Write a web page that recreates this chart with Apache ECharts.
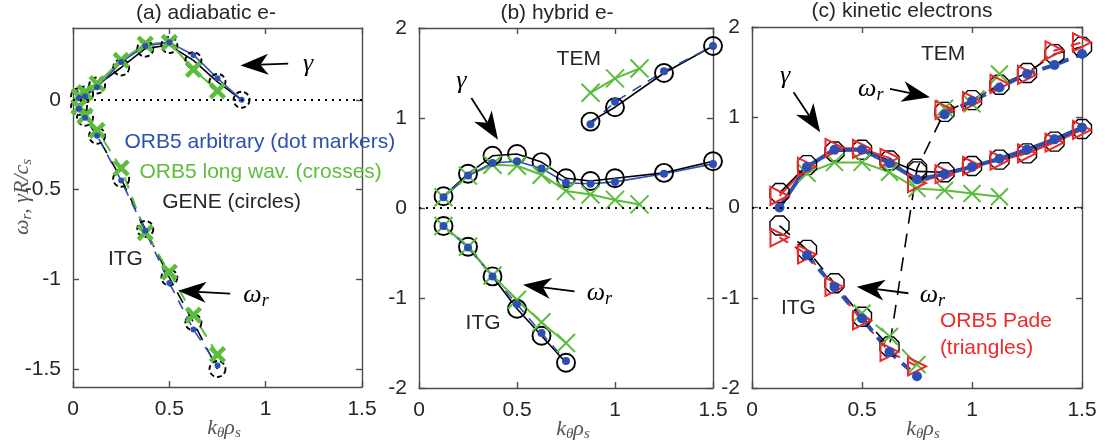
<!DOCTYPE html>
<html><head><meta charset="utf-8">
<script src="https://cdn.jsdelivr.net/npm/echarts@6/dist/echarts.min.js"></script>
<style>html,body{margin:0;padding:0;background:#fff}#c{width:1107px;height:446px}</style>
</head><body><div id="c"></div>
<script>
// ---------------- DATA ----------------
const xTicks = [0, 0.5, 1, 1.5];
const aYTicks = [-1.5, -1, -0.5, 0];
const bcYTicks = [-2, -1, 0, 1, 2];

// (a) adiabatic e-
const a_k = [0.03125, 0.0625, 0.125, 0.25, 0.375, 0.5, 0.625, 0.75, 0.875];
const a_gamma_orb5 = [0.01, 0.02, 0.07, 0.21, 0.30, 0.32, 0.25, 0.12, 0.0];
const a_gamma_gene = [0.02, 0.03, 0.08, 0.18, 0.285, 0.305, 0.22, 0.10, 0.0];
const a_k_long = [0.03125, 0.0625, 0.125, 0.25, 0.375, 0.5, 0.625, 0.75];
const a_gamma_long = [0.02, 0.04, 0.09, 0.22, 0.31, 0.32, 0.17, 0.05];
const a_k_omega = [0.03125, 0.0625, 0.125, 0.25, 0.375, 0.5, 0.625, 0.75];
const a_omega_orb5 = [-0.05, -0.1, -0.2, -0.45, -0.73, -1.02, -1.28, -1.48];
const a_omega_gene = [-0.04, -0.1, -0.2, -0.44, -0.72, -0.99, -1.24, -1.5];
const a_omega_long = [-0.04, -0.09, -0.17, -0.38, -0.74, -0.96, -1.2, -1.42];

// (b) hybrid e-
const b_k = [0.125, 0.25, 0.375, 0.5, 0.625, 0.75, 0.875, 1.0, 1.25, 1.5];
const b_gamma_orb5 = [0.12, 0.36, 0.5, 0.52, 0.44, 0.28, 0.27, 0.29, 0.38, 0.49];
const b_gamma_gene = [0.13, 0.38, 0.58, 0.6, 0.51, 0.33, 0.3, 0.33, 0.39, 0.52];
const b_k_long = [0.125, 0.25, 0.375, 0.5, 0.625, 0.75, 0.875, 1.0, 1.125];
const b_gamma_long = [0.12, 0.36, 0.48, 0.47, 0.37, 0.19, 0.15, 0.09, 0.04];
const b_k_itg = [0.125, 0.25, 0.375, 0.5, 0.625, 0.75];
const b_omega_itg_orb5 = [-0.2, -0.44, -0.76, -1.07, -1.39, -1.7];
const b_omega_itg_gene = [-0.2, -0.43, -0.76, -1.12, -1.42, -1.72];
const b_omega_itg_long = [-0.2, -0.43, -0.75, -1.02, -1.27, -1.5];
const b_k_tem = [0.875, 1.0, 1.25, 1.5];
const b_omega_tem_orb5 = [0.93, 1.18, 1.52, 1.8];
const b_omega_tem_gene = [0.96, 1.12, 1.5, 1.8];
const b_k_tem_long = [0.875, 1.0, 1.125];
const b_omega_tem_long = [1.28, 1.44, 1.55];

// (c) kinetic electrons
const c_k = [0.125, 0.25, 0.375, 0.5, 0.625, 0.75, 0.875, 1.0, 1.125, 1.25, 1.375, 1.5];
const c_gamma_orb5 = [0.0, 0.45, 0.64, 0.64, 0.49, 0.31, 0.37, 0.45, 0.54, 0.64, 0.755, 0.885];
const c_gamma_gene = [0.16, 0.47, 0.62, 0.64, 0.52, 0.4, 0.39, 0.46, 0.53, 0.6, 0.73, 0.87];
const c_gamma_pade = [0.13, 0.45, 0.66, 0.65, 0.55, 0.27, 0.37, 0.46, 0.52, 0.6, 0.72, 0.86];
const c_k_long = [0.25, 0.375, 0.5, 0.625, 0.75, 0.875, 1.0, 1.125];
const c_gamma_long = [0.38, 0.5, 0.5, 0.39, 0.21, 0.19, 0.155, 0.12];
const c_omega_gene = [-0.2, -0.47, -0.84, -1.21, -1.54, 0.43, 1.06, 1.19, 1.36, 1.49, 1.70, 1.78];
const c_k_itg_orb5 = [0.25, 0.375, 0.5, 0.625, 0.75];
const c_omega_itg_orb5 = [-0.53, -0.88, -1.23, -1.6, -1.87];
const c_k_itg_pade = [0.125, 0.25, 0.375, 0.5, 0.625, 0.75];
const c_omega_itg_pade = [-0.33, -0.52, -0.88, -1.25, -1.6, -1.76];
const c_k_tem = [0.875, 1.0, 1.125, 1.25, 1.375, 1.5];
const c_omega_tem_orb5 = [1.03, 1.18, 1.33, 1.48, 1.58, 1.70];
const c_omega_tem_pade = [1.08, 1.18, 1.37, 1.47, 1.74, 1.83];
const c_k_itg_long = [0.5, 0.625, 0.75];
const c_omega_itg_long = [-1.17, -1.43, -1.74];
const c_k_tem_long = [0.875, 1.0, 1.125];
const c_omega_tem_long = [1.1, 1.15, 1.48];

// ---------------- STYLE ----------------
const BLACK = '#000', BLUE = '#2d4fb4', GREEN = '#5cbd3c', RED = '#ec2a2a';
const AX = '#4d4d4d', LBL = '#262626';
const SANS = '"Liberation Sans", Arial, Helvetica, sans-serif';
const SERIF = '"Liberation Serif", "DejaVu Serif", serif';
const NONE = 'rgba(0,0,0,0)';
const CROSS = 'path://M0,0L10,10M10,0L0,10';
const OCT = 'path://M4,0L10,0L14,4L14,10L10,14L4,14L0,10L0,4Z';

const chart = echarts.init(document.getElementById('c'), null, {renderer: 'canvas'});

const grids = [
  {left: 73, top: 28, width: 289, height: 359},
  {left: 419, top: 28, width: 294, height: 360},
  {left: 752, top: 27, width: 330, height: 361}
];
const yr = [[-1.6, 0.4, aYTicks], [-2, 2, bcYTicks], [-2, 2, bcYTicks]];

const xAxis = [], yAxis = [];
grids.forEach((g, i) => {
  const line = {show: true, onZero: false, lineStyle: {color: AX, width: 1.4}};
  const tick = (vals) => ({show: true, inside: true, length: 6, customValues: vals, lineStyle: {color: AX, width: 1.4}});
  const lab = (vals, show) => ({show: show, customValues: vals, color: LBL, fontSize: 21, fontFamily: SANS, margin: 12});
  xAxis.push({gridIndex: i, type: 'value', min: 0, max: 1.5, position: 'bottom', axisLine: line, axisTick: tick(xTicks), axisLabel: lab(xTicks, true), splitLine: {show: false}});
  xAxis.push({gridIndex: i, type: 'value', min: 0, max: 1.5, position: 'top', axisLine: line, axisTick: tick(xTicks), axisLabel: lab(xTicks, false), splitLine: {show: false}});
  yAxis.push({gridIndex: i, type: 'value', min: yr[i][0], max: yr[i][1], position: 'left', axisLine: line, axisTick: tick(yr[i][2]), axisLabel: lab(yr[i][2], true), splitLine: {show: false}});
  yAxis.push({gridIndex: i, type: 'value', min: yr[i][0], max: yr[i][1], position: 'right', axisLine: line, axisTick: tick(yr[i][2]), axisLabel: lab(yr[i][2], false), splitLine: {show: false}});
});

function S(p, xs, ys, o) {
  return Object.assign({
    type: 'line', xAxisIndex: p * 2, yAxisIndex: p * 2,
    data: xs.map((x, i) => [x, ys[i]]),
    silent: true, animation: false, z: 3
  }, o);
}
const circ = (size, dashed) => ({symbol: 'circle', symbolSize: size, itemStyle: {color: NONE, borderColor: BLACK, borderWidth: 1.9, borderType: dashed ? [5, 3] : 'solid'}});
const oct = (size) => ({symbol: OCT, symbolSize: size, itemStyle: {color: NONE, borderColor: BLACK, borderWidth: 1.4}});
const dot = (size) => ({symbol: 'circle', symbolSize: size, itemStyle: {color: BLUE, borderWidth: 0}});
const cross = (size, w) => ({symbol: CROSS, symbolSize: size, itemStyle: {color: NONE, borderColor: GREEN, borderWidth: w}});
const tri = (size) => ({symbol: 'triangle', symbolRotate: -90, symbolSize: size, itemStyle: {color: NONE, borderColor: RED, borderWidth: 2}});
const ls = (color, width, type) => ({lineStyle: {color: color, width: width, type: type || 'solid'}});
const zeroLine = {markLine: {silent: true, symbol: 'none', animation: false, label: {show: false},
  lineStyle: {color: BLACK, width: 2, type: [2, 5]}, data: [{yAxis: 0}]}};

const series = [
  // (a)
  S(0, a_k, a_gamma_gene, Object.assign({}, circ(16, true), ls(BLACK, 1.6), zeroLine)),
  S(0, a_k_omega, a_omega_gene, Object.assign({}, circ(16, true), ls(BLACK, 1.6, [12, 9]))),
  S(0, a_k_long, a_gamma_long, Object.assign({}, cross(14, 4.5), ls(GREEN, 2))),
  S(0, a_k_omega, a_omega_long, Object.assign({}, cross(14, 4.5), ls(GREEN, 2, [12, 9]))),
  S(0, a_k, a_gamma_orb5, Object.assign({}, dot(6), ls(BLUE, 1.6))),
  S(0, a_k_omega, a_omega_orb5, Object.assign({}, dot(6), ls(BLUE, 1.6, [10, 8]))),
  // (b)
  S(1, b_k, b_gamma_gene, Object.assign({}, circ(18), ls(BLACK, 1.6), zeroLine)),
  S(1, b_k_itg, b_omega_itg_gene, Object.assign({}, circ(18), ls(BLACK, 1.6))),
  S(1, b_k_tem, b_omega_tem_gene, Object.assign({}, circ(18), ls(BLACK, 1.6))),
  S(1, b_k_long, b_gamma_long, Object.assign({}, cross(18, 2), ls(GREEN, 2))),
  S(1, b_k_itg, b_omega_itg_long, Object.assign({}, cross(18, 2), ls(GREEN, 2))),
  S(1, b_k_tem_long, b_omega_tem_long, Object.assign({}, cross(18, 2), ls(GREEN, 2))),
  S(1, b_k, b_gamma_orb5, Object.assign({}, dot(8), ls(BLUE, 1.6))),
  S(1, b_k_itg, b_omega_itg_orb5, Object.assign({}, dot(8), ls(BLUE, 1.6, [10, 8]))),
  S(1, b_k_tem, b_omega_tem_orb5, Object.assign({}, dot(8), ls(BLUE, 1.6, [10, 8]))),
  // (c)
  S(2, c_k, c_gamma_gene, Object.assign({}, oct(19), ls(BLACK, 1.6), zeroLine)),
  S(2, c_k, c_omega_gene, Object.assign({}, oct(19), ls(BLACK, 1.6, [14, 10]))),
  S(2, c_k_long, c_gamma_long, Object.assign({}, cross(17, 2), ls(GREEN, 2))),
  S(2, c_k_itg_long, c_omega_itg_long, Object.assign({}, cross(17, 2), ls(GREEN, 2, [10, 8]))),
  S(2, c_k_tem_long, c_omega_tem_long, Object.assign({}, cross(17, 2), ls(GREEN, 2, [10, 8]))),
  S(2, c_k, c_gamma_pade, Object.assign({}, tri(18), ls(RED, 2))),
  S(2, c_k_itg_pade, c_omega_itg_pade, Object.assign({}, tri(18), ls(RED, 2, [10, 8]))),
  S(2, c_k_tem, c_omega_tem_pade, Object.assign({}, tri(18), ls(RED, 2, [10, 8]))),
  S(2, c_k, c_gamma_orb5, Object.assign({}, dot(10), ls(BLUE, 4))),
  S(2, c_k_itg_orb5, c_omega_itg_orb5, Object.assign({}, dot(10), ls(BLUE, 4, [10, 8]))),
  S(2, c_k_tem, c_omega_tem_orb5, Object.assign({}, dot(10), ls(BLUE, 4, [10, 8])))
];

chart.setOption({animation: false, grid: grids, xAxis: xAxis, yAxis: yAxis, series: series});

// ---------------- ANNOTATIONS (data coordinates) ----------------
const panelSeries = [0, 6, 15];
const px = (p, pt) => chart.convertToPixel({seriesIndex: panelSeries[p]}, pt);
const mathRich = (size, color) => ({
  m: {font: 'italic ' + size + 'px ' + SERIF, fill: color, color: color, lineHeight: size + 4},
  s: {font: 'italic ' + Math.round(size * 0.68) + 'px ' + SERIF, fill: color, color: color, lineHeight: 10, verticalAlign: 'bottom'}
});
function txtAt(x, y, text, color, size, align, rich, rot) {
  const st = {text: text, fill: color, font: size + 'px ' + SANS, align: align || 'center', verticalAlign: 'middle',
    textAlign: align || 'center', textVerticalAlign: 'middle'};
  if (rich) st.rich = rich;
  return {type: 'text', x: x, y: y, rotation: rot || 0, z: 100, style: st};
}
function txt(p, pt, text, color, size, align, rich) {
  const q = px(p, pt);
  return txtAt(q[0], q[1], text, color, size, align, rich);
}
function arrow(p, tail, tip) {
  const a = px(p, tail), b = px(p, tip);
  const dx = b[0] - a[0], dy = b[1] - a[1], len = Math.hypot(dx, dy), ux = dx / len, uy = dy / len, nx = -uy, ny = ux;
  const L = 28, W = 10.5, N = 8;
  const base = [b[0] - ux * L, b[1] - uy * L], notch = [b[0] - ux * (L - N), b[1] - uy * (L - N)];
  return [
    {type: 'line', z: 100, shape: {x1: a[0], y1: a[1], x2: notch[0], y2: notch[1]}, style: {stroke: '#000', lineWidth: 1.8}},
    {type: 'polygon', z: 100, shape: {points: [b, [base[0] + nx * W, base[1] + ny * W], notch, [base[0] - nx * W, base[1] - ny * W]]}, style: {fill: '#000'}}
  ];
}
const g = [];
const gam = '{m|γ}', omr = '{m|ω}{s|r}';
// titles & axis names
g.push(txtAt(206, 13, '(a) adiabatic e-', LBL, 21));
g.push(txtAt(557, 13, '(b) hybrid e-', LBL, 21));
g.push(txtAt(902, 11, '(c) kinetic electrons', LBL, 21));
[[224, 428], [573, 429], [923, 429]].forEach(c => g.push(txtAt(c[0], c[1], '{m|k}{s|θ}{m|ρ}{s|s}', '#555', 22, 'center', mathRich(22, '#555'))));
g.push(txtAt(22, 197, '{m|ω}{s|r}{m|, γR/c}{s|s}', '#555', 22, 'center', mathRich(22, '#555'), Math.PI / 2));
// panel a
g.push(...arrow(0, [1.117, 0.202], [0.869, 0.191]));
g.push(txt(0, [1.22, 0.2], gam, BLACK, 26, 'center', mathRich(26, BLACK)));
g.push(...arrow(0, [0.816, -1.08], [0.546, -1.064]));
g.push(txt(0, [0.95, -1.09], omr, BLACK, 26, 'center', mathRich(26, BLACK)));
g.push(txt(0, [0.272, -0.886], 'ITG', LBL, 21));
g.push(txt(0, [0.267, -0.238], 'ORB5 arbitrary (dot markers)', BLUE, 21, 'left'));
g.push(txt(0, [0.345, -0.405], 'ORB5 long wav. (crosses)', GREEN, 21, 'left'));
g.push(txt(0, [0.463, -0.573], 'GENE (circles)', LBL, 21, 'left'));
// panel b
g.push(txt(1, [0.815, 1.648], 'TEM', LBL, 21));
g.push(txt(1, [0.216, 1.41], gam, BLACK, 26, 'center', mathRich(26, BLACK)));
g.push(...arrow(1, [0.267, 1.222], [0.403, 0.759]));
g.push(...arrow(1, [0.794, -0.927], [0.531, -0.852]));
g.push(txt(1, [0.92, -0.944], omr, BLACK, 26, 'center', mathRich(26, BLACK)));
g.push(txt(1, [0.327, -1.278], 'ITG', LBL, 21));
// panel c
g.push(txt(2, [0.869, 1.70], 'TEM', LBL, 21));
g.push(txt(2, [0.151, 1.46], gam, BLACK, 26, 'center', mathRich(26, BLACK)));
g.push(...arrow(2, [0.189, 1.277], [0.31, 0.835]));
g.push(txt(2, [0.54, 1.315], omr, BLACK, 26, 'center', mathRich(26, BLACK)));
g.push(...arrow(2, [0.627, 1.315], [0.809, 1.222]));
g.push(...arrow(2, [0.711, -0.95], [0.476, -0.877]));
g.push(txt(2, [0.82, -0.97], omr, BLACK, 26, 'center', mathRich(26, BLACK)));
g.push(txt(2, [0.211, -1.116], 'ITG', LBL, 21));
g.push(txt(2, [0.854, -1.264], 'ORB5 Pade', RED, 21, 'left'));
g.push(txt(2, [0.854, -1.558], '(triangles)', RED, 21, 'left'));

chart.setOption({graphic: {elements: g}});
</script></body></html>
